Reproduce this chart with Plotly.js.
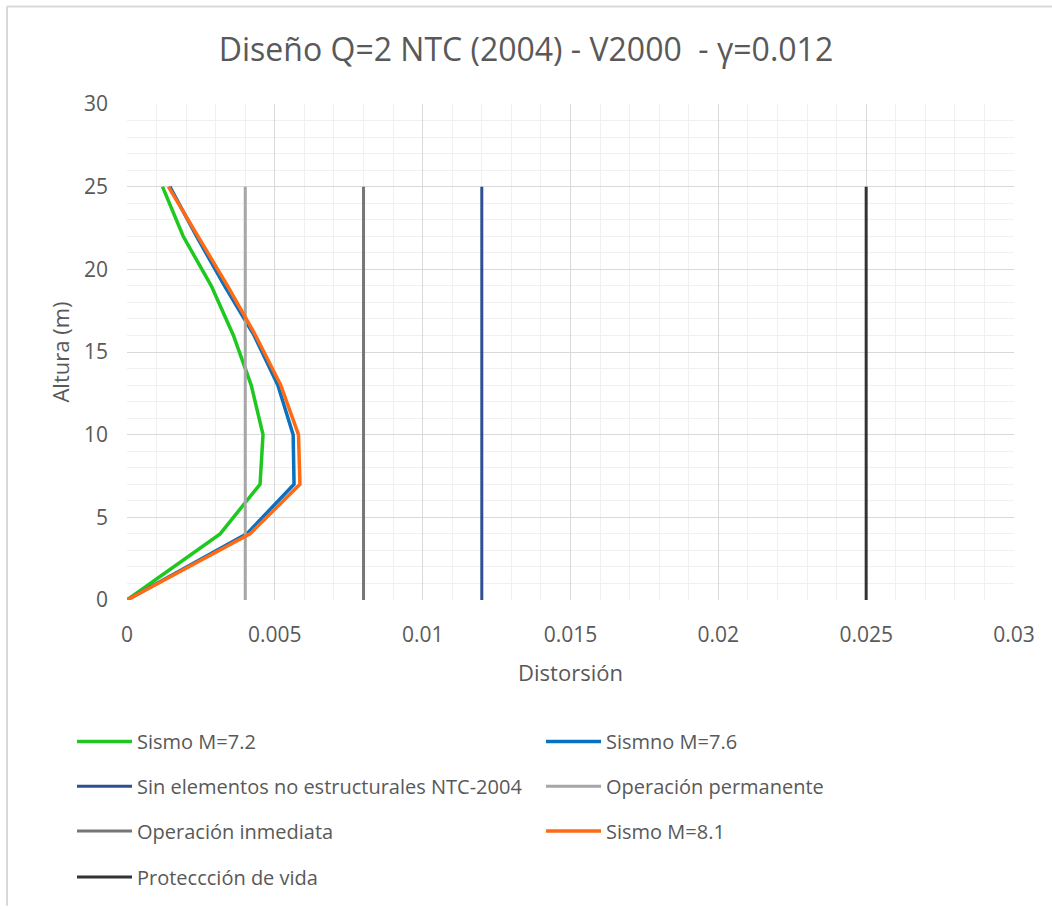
<!DOCTYPE html>
<html>
<head>
<meta charset="utf-8">
<script src="https://cdn.plot.ly/plotly-3.0.1.min.js"></script>
<style>html,body{margin:0;padding:0;background:#fff;}#chart{width:1052px;height:909px;}</style>
</head>
<body>
<div id="chart"></div>
<script>
// Heights (m)
const alturas = [0, 4, 7, 10, 13, 16, 19, 22, 25];
// Distortion per series
const sismo72 = [0, 0.00315, 0.0045, 0.0046, 0.0042, 0.0036, 0.00285, 0.0019, 0.0012];
const sismo76 = [0, 0.00405, 0.00565, 0.00562, 0.0051, 0.0043, 0.0033, 0.00235, 0.00145];
const sismo81 = [0, 0.00416, 0.00585, 0.0058, 0.0052, 0.00435, 0.0034, 0.0024, 0.0014];
// Limit lines (distortion) drawn from 0 to limitTop
const limitTop = 25;
const sinElementos = 0.012;
const operacionPermanente = 0.004;
const operacionInmediata = 0.008;
const proteccionVida = 0.025;

const xTicks = [0, 0.005, 0.01, 0.015, 0.02, 0.025, 0.03];
const xTickText = ['0', '0.005', '0.01', '0.015', '0.02', '0.025', '0.03'];
const yTicks = [0, 5, 10, 15, 20, 25, 30];

const FONT = 'Open Sans, Noto Sans, sans-serif';
const TXT = '#595959';

function vline(val, name, color, legend) {
  return {x: [val, val], y: [0, limitTop], mode: 'lines', name: name,
          line: {color: color, width: 3}, legend: legend, hoverinfo: 'skip'};
}

const traces = [
  {x: sismo72, y: alturas, mode: 'lines', name: 'Sismo M=7.2', line: {color: '#1ec81e', width: 3.5}, legend: 'legend'},
  {x: sismo76, y: alturas, mode: 'lines', name: 'Sismno M=7.6', line: {color: '#0a70c0', width: 3.5}, legend: 'legend2'},
  vline(sinElementos, 'Sin elementos no estructurales NTC-2004', '#2f4f93', 'legend3'),
  vline(operacionPermanente, 'Operación permanente', '#a6a6a6', 'legend4'),
  vline(operacionInmediata, 'Operación inmediata', '#767676', 'legend5'),
  {x: sismo81, y: alturas, mode: 'lines', name: 'Sismo M=8.1', line: {color: '#ff6a13', width: 3.5}, legend: 'legend6'},
  vline(proteccionVida, 'Proteccción de vida', '#333333', 'legend7')
];

const plotL = 127, plotR = 1014, plotT = 104, plotB = 602;
const pw = plotR - plotL, ph = plotB - plotT;
function px2x(px) { return (px - plotL) / pw; }
function py2y(py) { return (plotB - py) / ph; }

function mkLegend(colX, rowY) {
  return {orientation: 'h', x: px2x(colX), xanchor: 'left', y: py2y(rowY), yanchor: 'middle',
          itemwidth: 55,
          font: {family: FONT, size: 20, color: TXT}, bgcolor: 'rgba(0,0,0,0)'};
}

const layout = {
  width: 1052, height: 909,
  margin: {l: plotL, r: 1052 - plotR, t: plotT, b: 909 - plotB},
  paper_bgcolor: '#fff', plot_bgcolor: '#fff',
  font: {family: FONT, color: TXT},
  title: {text: 'Diseño Q=2 NTC (2004) - V2000  - γ=0.012', font: {family: FONT, size: 32, color: TXT},
          x: 0.5, xanchor: 'center', y: 1 - 50 / 909, yanchor: 'middle'},
  xaxis: {range: [0, 0.03], tickvals: xTicks, ticktext: xTickText, showgrid: true, gridcolor: '#d9d9d9', gridwidth: 1,
          minor: {dtick: 0.001, showgrid: true, gridcolor: '#f0f0f0', gridwidth: 1},
          zeroline: false, showline: false, ticks: '', ticklabelstandoff: 20,
          tickfont: {family: FONT, size: 21, color: TXT}, automargin: false,
          title: {text: 'Distorsión', font: {family: FONT, size: 22, color: TXT}, standoff: 18}},
  yaxis: {range: [0, 30], tickvals: yTicks, showgrid: true, gridcolor: '#d9d9d9', gridwidth: 1,
          minor: {dtick: 1, showgrid: true, gridcolor: '#f0f0f0', gridwidth: 1},
          zeroline: false, showline: false, ticks: '', ticklabelstandoff: 18, automargin: false,
          tickfont: {family: FONT, size: 21, color: TXT},
          title: {text: 'Altura (m)', font: {family: FONT, size: 22, color: TXT}, standoff: 8}},
  showlegend: true,
  legend: mkLegend(72, 744),
  legend2: mkLegend(541, 744),
  legend3: mkLegend(72, 789),
  legend4: mkLegend(541, 789),
  legend5: mkLegend(72, 834),
  legend6: mkLegend(541, 834),
  legend7: mkLegend(72, 880),
  shapes: [
    {type: 'line', xref: 'paper', yref: 'paper', x0: px2x(7), x1: px2x(7), y0: py2y(6), y1: py2y(909), line: {color: '#d9d9d9', width: 2}},
    {type: 'line', xref: 'paper', yref: 'paper', x0: px2x(7), x1: px2x(1052), y0: py2y(6), y1: py2y(6), line: {color: '#d9d9d9', width: 2}}
  ]
};

Plotly.newPlot('chart', traces, layout, {displayModeBar: false, staticPlot: true});
</script>
</body>
</html>
